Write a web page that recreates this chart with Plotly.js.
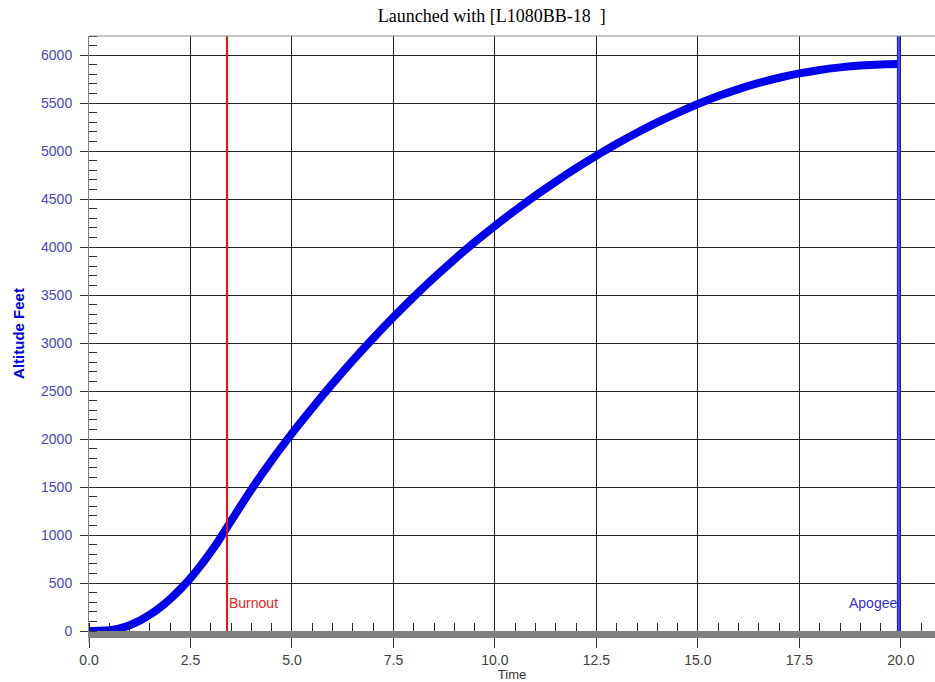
<!DOCTYPE html>
<html>
<head>
<meta charset="utf-8">
<script src="https://cdn.plot.ly/plotly-3.0.1.min.js"></script>
<style>html,body{margin:0;padding:0;background:#fff;}#chart{width:935px;height:682px;}</style>
</head>
<body>
<div id="chart"></div>
<script>
const timeS = [0, 0.25, 0.5, 0.75, 1.0, 1.25, 1.5, 1.75, 2.0, 2.25, 2.5, 2.75, 3.0, 3.2, 3.4, 4.0, 4.5,
  5.0, 5.5, 6.0, 6.5, 7.0, 7.5, 8.0, 8.5, 9.0, 9.5, 10.0, 10.5, 11.0, 11.5, 12.0, 12.5, 13.0, 13.5, 14.0, 14.5,
  15.0, 15.5, 16.0, 16.5, 17.0, 17.5, 18.0, 18.5, 19.0, 19.5, 19.95];
const altitudeFt = [0, 2, 9, 27, 61, 108, 170, 245, 334, 436, 552, 681, 824, 946, 1080, 1475, 1778,
  2059, 2324, 2577, 2820, 3051, 3272, 3482, 3682, 3872, 4052, 4222, 4383, 4537, 4683, 4822, 4953, 5077, 5192, 5300, 5399,
  5491, 5574, 5647, 5711, 5765, 5810, 5846, 5873, 5893, 5904, 5907];
const burnoutT = 3.4;
const apogeeT = 19.95;
const titleText = "Launched with [L1080BB-18  ]";

const trace = {
  x: timeS, y: altitudeFt, type: 'scatter', mode: 'lines',
  line: {color: '#0000ee', width: 8, shape: 'spline', smoothing: 0.8},
  hoverinfo: 'skip'
};

const layout = {
  width: 935, height: 682,
  margin: {l: 89, r: 0, t: 36, b: 51},
  paper_bgcolor: '#ffffff', plot_bgcolor: '#ffffff',
  showlegend: false,
  title: {text: titleText, font: {family: 'Liberation Serif, Times New Roman, serif', size: 18, color: '#000'}, x: 0.526, xanchor: 'center', y: 0.977, yanchor: 'middle'},
  xaxis: {
    range: [0, 20.84], tickmode: 'linear', tick0: 0, dtick: 2.5, tickformat: '.1f',
    showgrid: true, gridcolor: '#222222', gridwidth: 1, zeroline: false,
    showline: true, linecolor: '#808080', linewidth: 7,
    ticks: 'outside', ticklen: 10, tickcolor: '#333', tickwidth: 1,
    minor: {dtick: 0.5, tick0: 0, ticks: 'inside', ticklen: 8, tickcolor: '#222', tickwidth: 1, showgrid: false},
    tickfont: {family: 'Liberation Sans, Arial, sans-serif', size: 14, color: '#404040'},
    title: {text: 'Time', font: {family: 'Liberation Sans, Arial, sans-serif', size: 13, color: '#333'}, standoff: 2}
  },
  yaxis: {
    range: [0, 6200], tickmode: 'linear', tick0: 0, dtick: 500,
    showgrid: true, gridcolor: '#222222', gridwidth: 1, zeroline: false,
    showline: true, linecolor: '#808080', linewidth: 1,
    ticks: 'outside', ticklen: 8, tickcolor: '#333', tickwidth: 1, ticklabelstandoff: 5,
    minor: {dtick: 100, tick0: 0, ticks: 'inside', ticklen: 8, tickcolor: '#333', tickwidth: 1, showgrid: false},
    tickfont: {family: 'Liberation Sans, Arial, sans-serif', size: 14, color: '#4848b8'},
    title: {text: '<b>Altitude Feet</b>', font: {family: 'Liberation Sans, Arial, sans-serif', size: 15, color: '#0000dd'}, standoff: 12}
  },
  shapes: [
    {type: 'line', xref: 'x', yref: 'paper', x0: burnoutT, x1: burnoutT, y0: 0, y1: 1, line: {color: '#ee1111', width: 2}},
    {type: 'line', xref: 'x', yref: 'paper', x0: apogeeT, x1: apogeeT, y0: 0, y1: 1, line: {color: '#2222aa', width: 4}},
    {type: 'line', xref: 'x', yref: 'paper', x0: apogeeT, x1: apogeeT, y0: 0, y1: 1, line: {color: '#4444ff', width: 2}},
    {type: 'line', xref: 'paper', yref: 'paper', x0: 0, x1: 1, y0: 1, y1: 1, line: {color: '#888888', width: 1}},
    {type: 'line', xref: 'paper', yref: 'paper', x0: 0, x1: 0, y0: 0, y1: -0.02, line: {color: '#808080', width: 1}}
  ],
  annotations: [
    {x: burnoutT, y: 0, xref: 'x', yref: 'paper', yshift: 28, text: 'Burnout', showarrow: false, xanchor: 'left', yanchor: 'middle', font: {family: 'Liberation Sans, Arial, sans-serif', size: 14, color: '#ee2222'}},
    {x: apogeeT, y: 0, xref: 'x', yref: 'paper', yshift: 28, text: 'Apogee', showarrow: false, xanchor: 'right', yanchor: 'middle', font: {family: 'Liberation Sans, Arial, sans-serif', size: 14, color: '#3333cc'}}
  ]
};

Plotly.newPlot('chart', [trace], layout, {displayModeBar: false, staticPlot: true});
</script>
</body>
</html>
